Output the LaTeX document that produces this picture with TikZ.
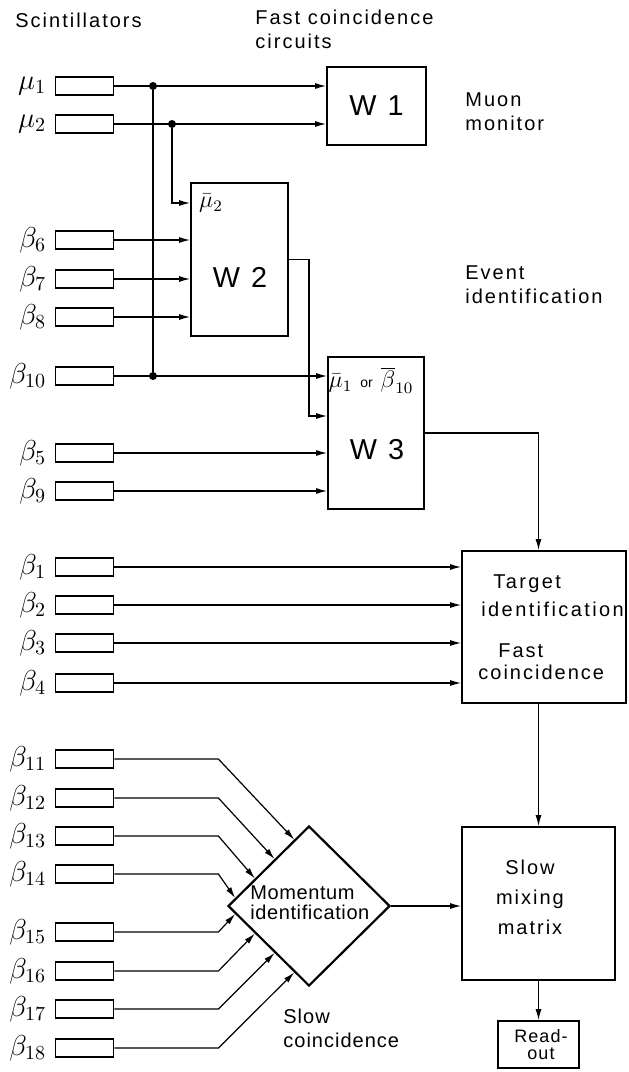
\documentclass[tikz,border=0pt]{standalone}
\usepackage{fontspec}
\setmainfont[LetterSpace=10]{Liberation Sans}
\usetikzlibrary{positioning,shapes.geometric,arrows.meta,calc}

\begin{document}
\begin{tikzpicture}[x=0.5pt, y=-0.5pt,
  scint/.style={draw, line width=0.9pt, minimum width=29pt, minimum height=9pt, inner sep=0pt},
  blk/.style={draw, line width=0.9pt, inner sep=0pt},
  conn/.style={line width=0.6pt},
  arr/.style={line width=0.6pt, -{Latex[length=5.5pt,width=3pt]}},
  dot/.style={circle, fill, inner sep=0pt, minimum size=4pt},
  txt/.style={align=left, inner sep=0pt}]

\useasboundingbox (0,0) rectangle (628,1072);

\node[txt, anchor=west] (hscint) at (15,20) {Scintillators};
\node[txt, anchor=west] (hfast) at (255,29) {Fast coincidence\\circuits};
\node[txt, anchor=west] (hmuon) at (465,112) {Muon\\monitor};
\node[txt, anchor=west] (hevent) at (465,285) {Event\\identification};
\node[txt, anchor=west] (hslow) at (283,1028) {\addfontfeature{LetterSpace=5}Slow\\\addfontfeature{LetterSpace=5}coincidence};

\foreach \n/\y/\t in {mu1/86/\mu_1, mu2/124/\mu_2, b6/240/\beta_6, b7/279/\beta_7,
    b8/317/\beta_8, b10/376/\beta_{10}, b5/453/\beta_5, b9/491/\beta_9,
    b1/567/\beta_1, b2/605/\beta_2, b3/643/\beta_3, b4/683/\beta_4,
    b11/759/\beta_{11}, b12/798/\beta_{12}, b13/836/\beta_{13}, b14/874/\beta_{14},
    b15/932/\beta_{15}, b16/971/\beta_{16}, b17/1009/\beta_{17}, b18/1048/\beta_{18}}
{
  \node[scint] (\n) at (84.5,\y) {};
  \node[left=4pt of \n, inner sep=0pt] (l\n) {\Large$\t$};
}

\node[blk, minimum width=49.5pt, minimum height=39pt] (W1) at (376.5,106) {\Large W 1};
\node[blk, minimum width=48.5pt, minimum height=76.5pt] (W2) at (239.5,259.5) {};
\node[font=\Large] (w2t) at (240,277) {W 2};
\node[inner sep=0pt] (w2mu) at (211,203) {\large$\bar{\mu}_2$};
\node[blk, minimum width=48pt, minimum height=76pt] (W3) at (376,433) {};
\node[font=\Large] (w3t) at (377,450) {W 3};
\node[inner sep=0pt] (w3in) at (371,380) {\large$\bar{\mu}_1$\kern4pt{\scriptsize\addfontfeature{LetterSpace=0}or}\kern4pt$\overline{\beta}_{10}$};

\node[blk, minimum width=82pt, minimum height=76pt] (Tgt) at (544,627) {};
\node[txt, anchor=west] (tgtt) at (481,596) {\addfontfeature{LetterSpace=12}\hspace*{6pt}Target\\[2pt]\addfontfeature{LetterSpace=12}identification};
\node[txt, anchor=west] (tgtf) at (478,662) {\hspace*{10pt}Fast\\[-1pt]coincidence};

\node[blk, minimum width=76.5pt, minimum height=76.5pt] (Mix) at (538.5,903.5) {};
\node[align=center] (mixt) at (530,897) {Slow\\[3pt]mixing\\[3pt]matrix};

\node[blk, minimum width=40.5pt, minimum height=23.5pt] (Read) at (538.5,1044.5) {};
\node[align=center, font=\small] (readt) at (541,1045) {\addfontfeature{LetterSpace=6}Read-\\[-2.5pt]\addfontfeature{LetterSpace=6}out};

\node[draw, diamond, line width=1.1pt, inner sep=0pt, minimum width=81pt, minimum height=80pt] (mom) at (309,906) {};
\node[txt, anchor=west] (momt) at (250,903) {\addfontfeature{LetterSpace=3}Momentum\\[-2pt]\addfontfeature{LetterSpace=3}identification};

\node[dot] (j1) at (153,86) {};
\node[dot] (j2) at (172,124) {};
\node[dot] (j10) at (153,376) {};

\draw[arr] (mu1.east) -- (mu1.east -| W1.west);
\draw[arr] (mu2.east) -- (mu2.east -| W1.west);
\draw[conn] (j1) -- (j10);
\draw[arr] (j2) |- (W2.west |- w2mu);
\foreach \n in {b6,b7,b8} \draw[arr] (\n.east) -- (\n.east -| W2.west);
\foreach \n in {b10,b5,b9} \draw[arr] (\n.east) -- (\n.east -| W3.west);
\draw[arr] (W2.east) -- ++(20,0) |- ([yshift=8.5pt]W3.west);
\draw[arr] (W3.east) -| (Mix.north |- Tgt.north);
\foreach \n in {b1,b2,b3,b4} \draw[arr] (\n.east) -- (\n.east -| Tgt.west);
\draw[arr] (Mix.north |- Tgt.south) -- (Mix.north);
\draw[arr] (Mix.south) -- (Read.north);
\draw[arr] (mom.east) -- (mom.east -| Mix.west);
\foreach \n/\f in {b11/0.82, b12/0.58, b13/0.34, b14/0.1}
  \draw[arr] (\n.east) -- ++(104,0) -- ($(mom.west)!\f!(mom.north)$);
\foreach \n/\f in {b15/0.1, b16/0.34, b17/0.58, b18/0.82}
  \draw[arr] (\n.east) -- ++(104,0) -- ($(mom.west)!\f!(mom.south)$);

\end{tikzpicture}
\end{document}
